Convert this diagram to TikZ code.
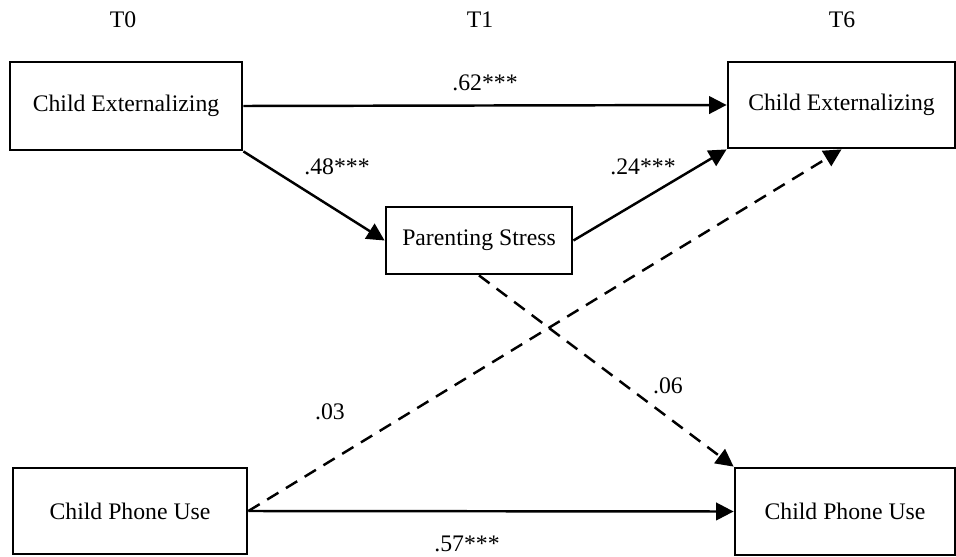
\documentclass[tikz,border=0pt]{standalone}
\usepackage{fontspec}
\setmainfont{Liberation Serif}
\usetikzlibrary{arrows.meta}

\begin{document}
\begin{tikzpicture}[
    x=0.02cm, y=-0.02cm,
    every node/.style={font=\fontsize{13.5}{16}\selectfont},
    box/.style={rectangle, draw, line width=1.6pt, align=center, inner sep=0pt},
    arrow/.style={-{Triangle[length=10pt, width=10pt]}, line width=1.4pt},
    dasharrow/.style={arrow, dash pattern=on 7.5pt off 5pt}
]
\useasboundingbox (0,0) rectangle (956,557);
% time points
\node (tzero) at (123,20) {T0};
\node (tone) at (480,20) {T1};
\node (tsix) at (842,20) {T6};
% variables
\node[box, minimum width=232*0.02cm, minimum height=88*0.02cm] (extzero) at (126,106) {Child Externalizing};
\node[box, minimum width=227*0.02cm, minimum height=86*0.02cm] (extsix) at (841.5,105) {Child Externalizing};
\node[box, minimum width=186*0.02cm, minimum height=67*0.02cm] (stress) at (479,240.5) {Parenting Stress};
\node[box, minimum width=234*0.02cm, minimum height=86*0.02cm] (phonezero) at (130,511) {Child Phone Use};
\node[box, minimum width=220*0.02cm, minimum height=87*0.02cm] (phonesix) at (845,511.5) {Child Phone Use};
% paths
\draw[arrow] (extzero.east) -- (extsix.west);
\draw[arrow] (extzero.south east) -- (stress.west);
\draw[arrow] (stress.east) -- (extsix.south west);
\draw[arrow] (phonezero.east) -- (phonesix.west);
\draw[dasharrow] (stress.south) -- (phonesix.north west);
\draw[dasharrow] (phonezero.east) -- (extsix.south);
% coefficients
\node (bext) at (485,83) {.62***};
\node (bpath) at (337,167) {.48***};
\node (bstress) at (643,167) {.24***};
\node (bcross) at (330,412) {.03};
\node (bstressphone) at (668,386) {.06};
\node (bphone) at (467,544) {.57***};
\end{tikzpicture}
\end{document}
